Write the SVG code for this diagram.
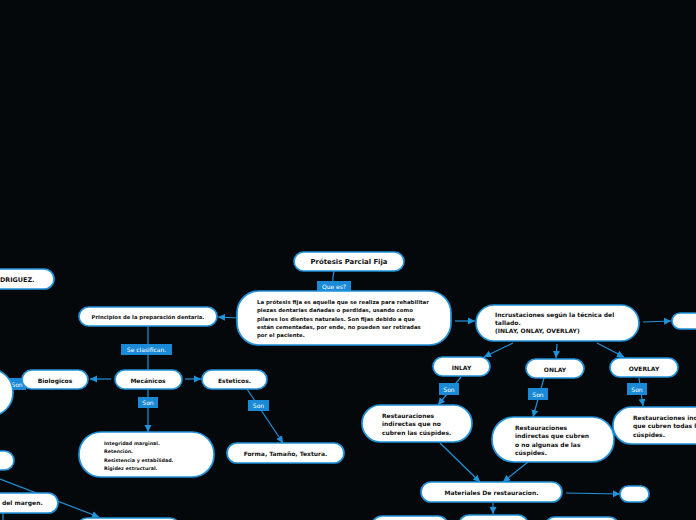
<svg xmlns="http://www.w3.org/2000/svg" width="696" height="520" viewBox="0 0 696 520">
<defs>
<style>
.n{fill:#fff;stroke:#1f93dc;stroke-width:1.7}
.t{font-family:"DejaVu Sans",Verdana,sans-serif;font-weight:bold;fill:#111;font-size:6px}
.c{text-anchor:middle;dominant-baseline:central}
.s{font-size:5.4px}
.xs{font-size:4.8px}
.e{fill:none;stroke:#1f93dc;stroke-width:1.2}
.lb{fill:#1a8ad6}
.lt{font-family:"DejaVu Sans",Verdana,sans-serif;fill:#fff;font-size:6px;text-anchor:middle;dominant-baseline:central}
</style>
<marker id="a" markerUnits="userSpaceOnUse" markerWidth="8" markerHeight="8" refX="7" refY="4" orient="auto"><path d="M0,0.5 L7,4 L0,7.5 z" fill="#1f93dc"/></marker>
</defs>
<rect width="696" height="520" fill="#05080b"/>

<g id="connectors">
<path class="e" d="M334,271 C334,275 332,276 333,281"/>
<path class="e" d="M333,291 L333,292"/>
<path class="e" d="M237,318 L218,317" marker-end="url(#a)"/>
<path class="e" d="M148,326 L148,370"/>
<path class="e" d="M111,379 L90,379" marker-end="url(#a)"/>
<path class="e" d="M185,379 L201,379" marker-end="url(#a)"/>
<path class="e" d="M148,389 L148,432" marker-end="url(#a)"/>
<path class="e" d="M247,389 L283,443" marker-end="url(#a)"/>
<path class="e" d="M455,321 L475,321" marker-end="url(#a)"/>
<path class="e" d="M643,322 L671,321" marker-end="url(#a)"/>
<path class="e" d="M513,343 L484,357" marker-end="url(#a)"/>
<path class="e" d="M557,344 L556,358" marker-end="url(#a)"/>
<path class="e" d="M597,343 L624,357" marker-end="url(#a)"/>
<path class="e" d="M461,377 L438,405" marker-end="url(#a)"/>
<path class="e" d="M544,378 L533,417" marker-end="url(#a)"/>
<path class="e" d="M639,378 L643,406" marker-end="url(#a)"/>
<path class="e" d="M440,443 L480,482" marker-end="url(#a)"/>
<path class="e" d="M528,462 L503,482" marker-end="url(#a)"/>
<path class="e" d="M566,493 L620,494" marker-end="url(#a)"/>
<path class="e" d="M493,503 L493,514" marker-end="url(#a)"/>
<path class="e" d="M22,380 L10,384"/>
<path class="e" d="M0,479 L99,517" marker-end="url(#a)"/>
<path class="e" d="M3,513 L3,520"/>
</g>

<g id="lbl-quees"><rect class="lb" x="317" y="281" width="34" height="10"/><text class="lt" x="334" y="286.5">Que es?</text></g>
<g id="lbl-clasif"><rect class="lb" x="121" y="344" width="51" height="11"/><text class="lt" x="146.5" y="349.5">Se clasifican.</text></g>
<g id="lbl-son1"><rect class="lb" x="138" y="397" width="20" height="11"/><text class="lt" x="148" y="402.5">Son</text></g>
<g id="lbl-son2"><rect class="lb" x="248" y="400" width="21" height="11"/><text class="lt" x="258.5" y="405.5">Son</text></g>
<g id="lbl-son3"><rect class="lb" x="4" y="378" width="22" height="12"/><text class="lt" x="17" y="384">Son</text></g>
<g id="lbl-son4"><rect class="lb" x="439" y="383" width="20" height="12"/><text class="lt" x="449" y="389">Son</text></g>
<g id="lbl-son5"><rect class="lb" x="528" y="388" width="20" height="12"/><text class="lt" x="538" y="394">Son</text></g>
<g id="lbl-son6"><rect class="lb" x="627" y="383" width="20" height="12"/><text class="lt" x="637" y="389">Son</text></g>

<g id="title"><rect class="n" x="294" y="252" width="110" height="19" rx="9.5"/><text class="t c" x="349" y="262" style="font-size:6.9px">Prótesis Parcial Fija</text></g>
<g id="definicion"><rect class="n" x="237" y="291" width="214" height="54" rx="22"/>
<text class="t s" x="257" y="304">La prótesis fija es aquella que se realiza para rehabilitar</text>
<text class="t s" x="257" y="312.3">piezas dentarias dañadas o perdidas, usando como</text>
<text class="t s" x="257" y="320.6">pilares los dientes naturales. Son fijas debido a que</text>
<text class="t s" x="257" y="328.9">están cementadas, por ende, no pueden ser retiradas</text>
<text class="t s" x="257" y="337.2">por el paciente.</text></g>
<g id="principios"><rect class="n" x="79" y="307" width="138" height="19" rx="9.5"/><text class="t c" x="148" y="317" style="font-size:5.3px">Principios de la preparación dentaria.</text></g>
<g id="mecanicos"><rect class="n" x="115" y="370" width="67" height="19" rx="9.5"/><text class="t c" x="148" y="380">Mecánicos</text></g>
<g id="esteticos"><rect class="n" x="202" y="370" width="65" height="19" rx="9.5"/><text class="t c" x="234.5" y="380">Esteticos.</text></g>
<g id="mec-lista"><rect class="n" x="79" y="432" width="135" height="45" rx="22"/>
<text class="t xs" x="104" y="444.5">Integridad marginal.</text>
<text class="t xs" x="104" y="453">Retención.</text>
<text class="t xs" x="104" y="461.5">Resistencia y estabilidad.</text>
<text class="t xs" x="104" y="470">Rigidez estructural.</text></g>
<g id="forma"><rect class="n" x="227" y="443" width="117" height="20" rx="10"/><text class="t c" x="285.5" y="453.5">Forma, Tamaño, Textura.</text></g>
<g id="rodriguez"><rect class="n" x="-40" y="269" width="94" height="20" rx="10"/><text class="t" x="0" y="281.5" style="font-size:6.4px">DRIGUEZ.</text></g>
<g id="left-big"><rect class="n" x="-40" y="369" width="53" height="47" rx="23"/></g>
<g id="biologicos"><rect class="n" x="22" y="370" width="66" height="19" rx="9.5"/><text class="t c" x="55" y="380">Biologicos</text></g>
<g id="left-small"><rect class="n" x="-30" y="451" width="44" height="19" rx="9.5"/></g>
<g id="margen"><rect class="n" x="-40" y="493" width="98" height="20" rx="10"/><text class="t" x="2" y="505">del margen.</text></g>
<g id="bottom-left"><rect class="n" x="77" y="518" width="103" height="20" rx="10"/></g>

<g id="incrustaciones"><rect class="n" x="476" y="305" width="163" height="36" rx="18"/>
<text class="t" x="495" y="316.5">Incrustaciones según la técnica del</text>
<text class="t" x="495" y="324.8">tallado.</text>
<text class="t" x="495" y="333">(INLAY, ONLAY, OVERLAY)</text></g>
<g id="right-node"><rect class="n" x="672" y="313" width="50" height="16" rx="8"/></g>
<g id="inlay"><rect class="n" x="433" y="357" width="57" height="19" rx="9.5"/><text class="t c" x="461.5" y="367">INLAY</text></g>
<g id="onlay"><rect class="n" x="526" y="359" width="58" height="19" rx="9.5"/><text class="t c" x="555" y="369">ONLAY</text></g>
<g id="overlay"><rect class="n" x="610" y="358" width="68" height="19" rx="9.5"/><text class="t c" x="644" y="368">OVERLAY</text></g>
<g id="rest-inlay"><rect class="n" x="362" y="405" width="110" height="37" rx="18.5"/>
<text class="t" x="382" y="418">Restauraciones</text>
<text class="t" x="382" y="426.3">indirectas que no</text>
<text class="t" x="382" y="434.6">cubren las cúspides.</text></g>
<g id="rest-onlay"><rect class="n" x="492" y="417" width="122" height="45" rx="22"/>
<text class="t" x="515" y="430">Restauraciones</text>
<text class="t" x="515" y="438.4">indirectas que cubren</text>
<text class="t" x="515" y="446.8">o no algunas de las</text>
<text class="t" x="515" y="455.2">cúspides.</text></g>
<g id="rest-overlay"><rect class="n" x="613" y="407" width="120" height="37" rx="18.5"/>
<text class="t" x="633" y="420">Restauraciones ind</text>
<text class="t" x="633" y="428.3">que cubren todas la</text>
<text class="t" x="633" y="436.6">cúspides.</text></g>
<g id="materiales"><rect class="n" x="421" y="482" width="141" height="20" rx="10"/><text class="t c" x="491.5" y="492.5">Materiales De restauracion.</text></g>
<g id="mat-right"><rect class="n" x="620" y="486" width="29" height="16" rx="8"/></g>
<g id="mat-b1"><rect class="n" x="372" y="516" width="76" height="20" rx="10"/></g>
<g id="mat-b2"><rect class="n" x="459" y="515" width="69" height="20" rx="10"/></g>
<g id="mat-b3"><rect class="n" x="545" y="517" width="74" height="20" rx="10"/></g>
</svg>
